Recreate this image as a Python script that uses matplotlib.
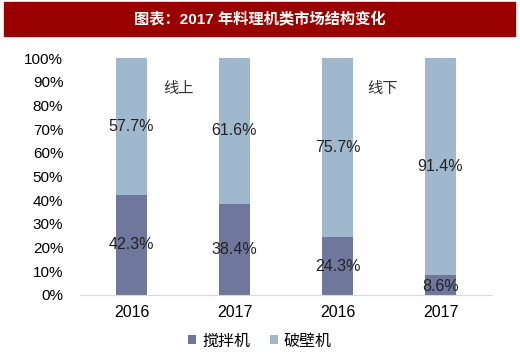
import numpy as np
import matplotlib.pyplot as plt
from matplotlib.patches import Rectangle

plt.rcParams['font.family'] = ['Liberation Sans', 'Noto Sans CJK SC', 'DejaVu Sans']

categories = ['2016', '2017', '2016', '2017']
blender = [42.3, 38.4, 24.3, 8.6]        # 搅拌机
high_speed = [57.7, 61.6, 75.7, 91.4]    # 破壁机
series_names = ['搅拌机', '破壁机']
group_names = ['线上', '线下']

dark = '#6f779d'
light = '#a0b8ce'

fig = plt.figure(figsize=(5.2, 3.64), dpi=100)

# title bar
fig.patches.append(Rectangle((4 / 520, 1 - 36 / 364), 511 / 520, 34 / 364,
                             transform=fig.transFigure, color='#990000', zorder=0))
fig.text(0.5, 1 - 19 / 364, '图表：2017 年料理机类市场结构变化', color='white',
         fontsize=11, fontweight='bold', ha='center', va='center',
         family=['Liberation Sans', 'Noto Sans CJK SC'])

ax = fig.add_axes([80 / 520, 1 - 295 / 364, 412 / 520, 237 / 364])
x = np.arange(len(categories))
w = 0.31
ax.bar(x, np.array(blender) / 100, w, color=dark, label=series_names[0])
ax.bar(x, np.array(high_speed) / 100, w, bottom=np.array(blender) / 100,
       color=light, label=series_names[1])

for i in range(len(categories)):
    b = blender[i] / 100
    h = high_speed[i] / 100
    yb = b / 2 if blender[i] > 15 else 0.035
    ax.text(x[i], yb, f'{blender[i]:.1f}%', ha='center', va='center', fontsize=11.5, color='#222222')
    ax.text(x[i], b + h / 2, f'{high_speed[i]:.1f}%', ha='center', va='center', fontsize=11.5, color='#222222')

ax.text(0.46, 0.87, group_names[0], ha='center', va='center', fontsize=11,
        family='Noto Sans CJK SC', color='#333333')
ax.text(2.44, 0.87, group_names[1], ha='center', va='center', fontsize=11,
        family='Noto Sans CJK SC', color='#333333')

ax.set_xlim(-0.5, 3.5)
ax.set_ylim(0, 1)
ax.set_yticks(np.arange(0, 1.01, 0.1))
ax.set_yticklabels([f'{int(round(v * 100))}%' for v in np.arange(0, 1.01, 0.1)], fontsize=11)
ax.set_xticks(x)
ax.set_xticklabels(categories, fontsize=11.5)
ax.tick_params(length=0, pad=7)
ax.tick_params(axis='y', pad=12)
for s in ['top', 'right', 'left']:
    ax.spines[s].set_visible(False)
ax.spines['bottom'].set_color('#d9d9d9')

leg = fig.legend(loc='center', bbox_to_anchor=(0.5, 1 - 341 / 364), ncol=2, frameon=False,
                 handlelength=0.5, handleheight=0.5, handletextpad=0.4, columnspacing=1.2,
                 prop={'family': 'Noto Sans CJK SC', 'size': 11.5})

fig.savefig('out.png', dpi=100)
